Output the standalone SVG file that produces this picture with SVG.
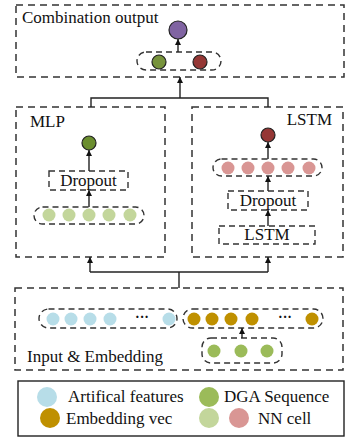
<svg xmlns="http://www.w3.org/2000/svg" width="349" height="438" viewBox="0 0 349 438">
<style>
.box{fill:none;stroke:#333;stroke-width:1.5;stroke-dasharray:7 5}
.ibox{fill:none;stroke:#333;stroke-width:1.4;stroke-dasharray:6 4}
.oval{fill:none;stroke:#333;stroke-width:1.4;stroke-dasharray:6 4}
.t{font-family:"Liberation Serif","Times New Roman",serif;font-size:17px;fill:#111}
.con{fill:none;stroke:#222;stroke-width:1.4}
.out{stroke:#222;stroke-width:1.2}
.bl{fill:#b7dde8}.or{fill:#bf9000}.dg{fill:#9bbb59}.lg{fill:#c3d69b}.pk{fill:#d99694}
.dots{font-family:"Liberation Serif",serif;font-size:14px;fill:#111;font-weight:bold}
</style>
<defs>
<marker id="ah" viewBox="0 0 10 10" refX="10" refY="5" markerWidth="6" markerHeight="6" orient="auto" markerUnits="userSpaceOnUse">
<path d="M0,0 L10,5 L0,10 z" fill="#111"/>
</marker>
</defs>

<g id="combination">
<rect class="box" x="16" y="5" width="328" height="72"/>
<text class="t" x="22" y="23">Combination output</text>
<circle class="out" cx="178" cy="30" r="9" fill="#8064a2"/>
<rect class="oval" x="137" y="52" width="84" height="18" rx="9"/>
<circle class="out" cx="159" cy="62" r="7" fill="#77933c"/>
<circle class="out" cx="200" cy="62" r="7" fill="#953735"/>
</g>

<g id="mlp">
<rect class="box" x="16" y="107" width="149" height="150"/>
<text class="t" x="30" y="127">MLP</text>
<circle class="out" cx="89" cy="143" r="7" fill="#6b8e2f"/>
<rect class="ibox" x="49" y="171" width="79" height="19"/>
<text class="t" x="88.5" y="186" text-anchor="middle">Dropout</text>
<rect class="oval" x="34" y="207" width="110" height="17" rx="8.5"/>
<circle class="lg" cx="49" cy="215" r="6.5"/>
<circle class="lg" cx="69" cy="215" r="6.5"/>
<circle class="lg" cx="89" cy="215" r="6.5"/>
<circle class="lg" cx="109" cy="215" r="6.5"/>
<circle class="lg" cx="130" cy="215" r="6.5"/>
</g>

<g id="lstm">
<rect class="box" x="192" y="107" width="151" height="150"/>
<text class="t" x="332" y="125" text-anchor="end">LSTM</text>
<circle class="out" cx="268" cy="135" r="7" fill="#953735"/>
<rect class="oval" x="213" y="159" width="109" height="17" rx="8.5"/>
<circle class="pk" cx="228" cy="168" r="6.5"/>
<circle class="pk" cx="248" cy="168" r="6.5"/>
<circle class="pk" cx="268" cy="168" r="6.5"/>
<circle class="pk" cx="288" cy="168" r="6.5"/>
<circle class="pk" cx="309" cy="168" r="6.5"/>
<rect class="ibox" x="228" y="191" width="80" height="19"/>
<text class="t" x="268" y="206" text-anchor="middle">Dropout</text>
<rect class="ibox" x="219" y="226" width="96" height="18"/>
<text class="t" x="267" y="240" text-anchor="middle">LSTM</text>
</g>

<g id="input">
<rect class="box" x="15" y="288" width="328" height="82"/>
<rect class="oval" x="39" y="309" width="138" height="19" rx="9.5"/>
<circle class="bl" cx="53" cy="319" r="6.5"/>
<circle class="bl" cx="71" cy="319" r="6.5"/>
<circle class="bl" cx="90" cy="319" r="6.5"/>
<circle class="bl" cx="110" cy="319" r="6.5"/>
<text class="dots" x="142" y="322" text-anchor="middle">···</text>
<circle class="bl" cx="169" cy="319" r="6.5"/>
<rect class="oval" x="183" y="309" width="140" height="19" rx="9.5"/>
<circle class="or" cx="194" cy="319" r="6.5"/>
<circle class="or" cx="212" cy="319" r="6.5"/>
<circle class="or" cx="231" cy="319" r="6.5"/>
<circle class="or" cx="252" cy="319" r="6.5"/>
<text class="dots" x="285" y="322" text-anchor="middle">···</text>
<circle class="or" cx="312" cy="319" r="6.5"/>
<rect class="oval" x="202" y="338" width="80" height="25" rx="9"/>
<circle class="dg" cx="214" cy="351" r="6.5"/>
<circle class="dg" cx="241" cy="351" r="6.5"/>
<circle class="dg" cx="267" cy="351" r="6.5"/>
<text class="t" x="27" y="362">Input &amp; Embedding</text>
</g>

<g id="legend">
<rect x="18" y="381" width="326" height="55" fill="none" stroke="#222" stroke-width="1.4"/>
<circle class="bl" cx="47" cy="397" r="10"/>
<text class="t" x="68" y="402">Artifical features</text>
<circle class="dg" cx="209" cy="397" r="10"/>
<text class="t" x="224" y="402">DGA Sequence</text>
<circle class="or" cx="50" cy="418" r="10"/>
<text class="t" x="66" y="424">Embedding vec</text>
<circle class="lg" cx="209" cy="418" r="10"/>
<circle class="pk" cx="239" cy="418" r="10"/>
<text class="t" x="258" y="424">NN cell</text>
</g>

<g id="connectors">
<path class="con" d="M178,52 V39" marker-end="url(#ah)"/>
<path class="con" d="M180,98 V77" marker-end="url(#ah)"/>
<path class="con" d="M91,107 V98 H268 V107"/>
<path class="con" d="M89,171 V150" marker-end="url(#ah)"/>
<path class="con" d="M89,207 V190" marker-end="url(#ah)"/>
<path class="con" d="M268,159 V142" marker-end="url(#ah)"/>
<path class="con" d="M268,191 V176" marker-end="url(#ah)"/>
<path class="con" d="M268,226 V210" marker-end="url(#ah)"/>
<path class="con" d="M179,288 V272"/>
<path class="con" d="M90,272 H268"/>
<path class="con" d="M90,272 V257" marker-end="url(#ah)"/>
<path class="con" d="M268,272 V257" marker-end="url(#ah)"/>
<path class="con" d="M242,338 V328" marker-end="url(#ah)"/>
</g>
</svg>
